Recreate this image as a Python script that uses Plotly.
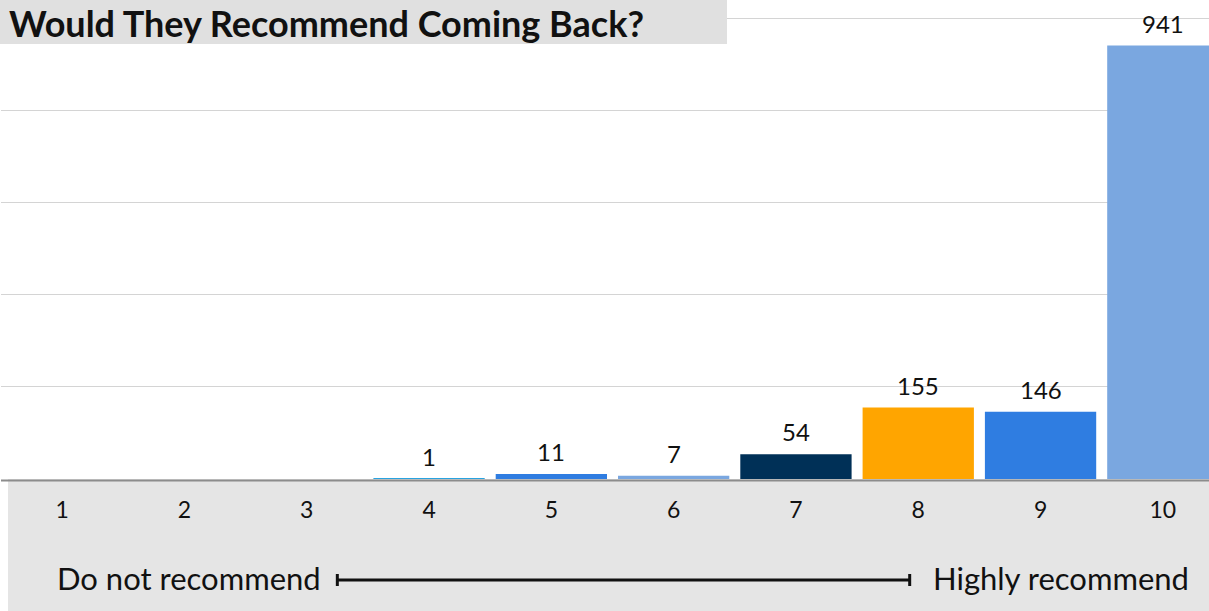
import plotly.graph_objects as go

scores = ["1", "2", "3", "4", "5", "6", "7", "8", "9", "10"]
counts = [0, 0, 0, 1, 11, 7, 54, 155, 146, 941]
labels = ["", "", "", "1", "11", "7", "54", "155", "146", "941"]
bar_colors = ["#29a3e0", "#29a3e0", "#29a3e0", "#29a3e0", "#2f7de1",
              "#7aa7e0", "#003057", "#ffa500", "#2f7de1", "#7aa7e0"]
title_text = "Would They Recommend Coming Back?"
low_label = "Do not recommend"
high_label = "Highly recommend"

FONT = "Lato"
W, H = 1209, 611
ML, MB = 1, 132
plot_w = W - ML
plot_h = H - MB

xs = list(range(1, 11))

fig = go.Figure()
fig.add_trace(go.Bar(
    x=xs, y=counts, marker=dict(color=bar_colors, line=dict(width=0)),
    width=0.91, hoverinfo="x+y",
))

annotations = []
for xv, yv, lab in zip(xs, counts, labels):
    if lab:
        annotations.append(dict(
            x=xv, y=yv, xref="x", yref="y", text=lab, showarrow=False,
            yanchor="bottom", yshift=6,
            font=dict(family=FONT, size=24, color="#111111"),
        ))

# title in grey box
annotations.append(dict(
    x=(8 - ML) / plot_w, y=1.0, xref="paper", yref="paper", xanchor="left", yanchor="top",
    yshift=0, borderpad=0, text="<b>" + title_text + "</b>", showarrow=False,
    font=dict(family=FONT, size=36, color="#111111"),
))
# scale labels
annotations.append(dict(
    x=(55 - ML) / plot_w, y=-(578 - plot_h) / plot_h, xref="paper", yref="paper",
    text=low_label, showarrow=False, xanchor="left", yanchor="middle",
    font=dict(family=FONT, size=31, color="#111111"),
))
annotations.append(dict(
    x=(1191 - ML) / plot_w, y=-(578 - plot_h) / plot_h, xref="paper", yref="paper",
    text=high_label, showarrow=False, xanchor="right", yanchor="middle",
    font=dict(family=FONT, size=31, color="#111111"),
))

ytick_line = -(580 - plot_h) / plot_h
cap = 6 / plot_h
shapes = [
    # grey bottom band
    dict(type="rect", xref="paper", yref="paper", x0=(8 - ML) / plot_w, x1=1.0,
         y0=-MB / plot_h, y1=0, fillcolor="#e5e5e5", line=dict(width=0), layer="below"),
    # grey title box
    dict(type="rect", xref="paper", yref="paper", x0=-0.01, x1=(727 - ML) / plot_w,
         y0=1 - 44 / plot_h, y1=1.01, fillcolor="#e0e0e0", line=dict(width=0), layer="above"),
    # scale line
    dict(type="line", xref="x", yref="paper", x0=3.25, x1=7.93, y0=ytick_line, y1=ytick_line,
         line=dict(color="#111111", width=3)),
    dict(type="line", xref="x", yref="paper", x0=3.25, x1=3.25, y0=ytick_line - cap, y1=ytick_line + cap,
         line=dict(color="#111111", width=3)),
    dict(type="line", xref="x", yref="paper", x0=7.93, x1=7.93, y0=ytick_line - cap, y1=ytick_line + cap,
         line=dict(color="#111111", width=3)),
    # baseline
    dict(type="line", xref="paper", yref="paper", x0=0, x1=1, y0=-1.5 / plot_h, y1=-1.5 / plot_h,
         line=dict(color="#8c8c8c", width=2), layer="above"),
]

fig.update_layout(
    width=W, height=H,
    margin=dict(l=ML, r=0, t=0, b=MB, pad=0),
    paper_bgcolor="white", plot_bgcolor="white",
    showlegend=False,
    bargap=0.09,
    xaxis=dict(
        range=[0.5, 0.5 + plot_w / 122.3],
        tickmode="array", tickvals=xs, ticktext=scores,
        tickfont=dict(family=FONT, size=23, color="#111111"),
        showgrid=False, zeroline=False, showline=False, ticks="",
        ticklabelstandoff=15, fixedrange=True,
    ),
    yaxis=dict(
        range=[0, 1040], dtick=200, showticklabels=False,
        showgrid=True, gridcolor="#d4d4d4", gridwidth=1,
        zeroline=False, showline=False, ticks="", fixedrange=True,
    ),
    annotations=annotations,
    shapes=shapes,
)

fig.write_html("out.html", config={"displayModeBar": False},
               post_script="document.body.style.margin='0px';document.body.style.overflow='hidden';")
